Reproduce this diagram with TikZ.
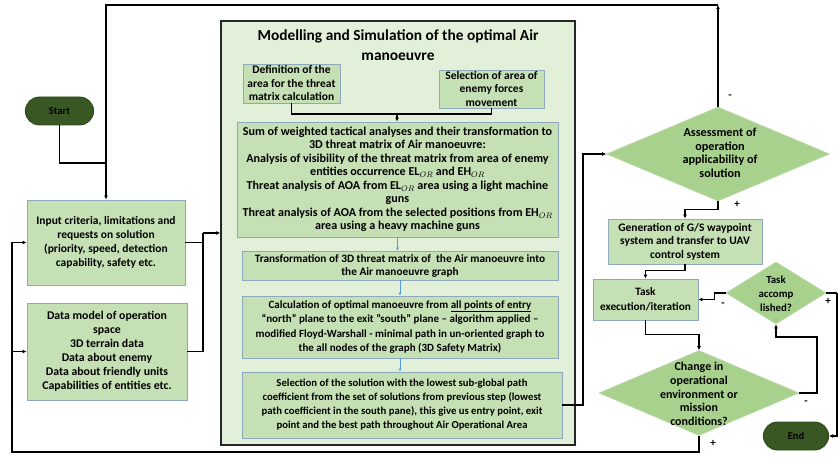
\documentclass[tikz,border=0pt]{standalone}
\usepackage{fontspec}
\setmainfont{Carlito}
\usetikzlibrary{shapes.geometric,shapes.misc,arrows.meta,calc}
\definecolor{framefill}{HTML}{E2F0D9}
\definecolor{boxfill}{HTML}{C5E0B4}
\definecolor{boxline}{HTML}{8FA9BC}
\definecolor{diafill}{HTML}{A9D18E}
\definecolor{termfill}{HTML}{385723}
\definecolor{termline}{HTML}{2E4A1C}
\definecolor{bluearrow}{HTML}{5B9BD5}
\newcommand{\fs}[2]{\bfseries\fontsize{#1}{#2}\selectfont}
\tikzset{
  box/.style={draw=boxline, line width=0.9pt, fill=boxfill, inner sep=0pt, align=center},
  dia/.style={diamond, draw=diafill!80!white, line width=0.6pt, fill=diafill, inner sep=0pt},
  diatext/.style={align=center},
  term/.style={rounded rectangle, draw=termline, fill=termfill, line width=0.8pt,
    font=\fs{10.5}{12}, text=black},
  arr/.style={line width=1.3pt, -{Latex[length=4pt,width=4pt]}},
  conn/.style={line width=1.3pt},
  barr/.style={line width=0.8pt, draw=bluearrow, -{Latex[length=3pt,width=3pt]}},
  sign/.style={font=\fs{11}{12}},
}
\begin{document}
\begin{tikzpicture}[x=1pt,y=-1pt]
\useasboundingbox (0,0) rectangle (838,457);
% big frame
\node[draw=black!85, line width=1.4pt, fill=framefill, minimum width=354pt, minimum height=424pt, inner sep=0pt] (frame) at (398,233) {};
\node[align=center, font=\fs{15.4}{20}] (title) at (398,45) {Modelling and Simulation of the optimal Air\\manoeuvre};
\node[box, font=\fs{11.5}{13.5}, minimum width=97pt, minimum height=39pt] (def) at (291.5,83.5) {Definition of the\\area for the threat\\matrix calculation};
\node[box, font=\fs{11.5}{13.5}, minimum width=105pt, minimum height=38pt] (sel) at (491.5,89) {Selection of area of\\enemy forces\\movement};
\node[box, font=\fs{12.1}{13.5}, minimum width=321pt, minimum height=115pt] (sum) at (397.5,179.5) {Sum of weighted tactical analyses and their transformation to\\3D threat matrix of Air manoeuvre:\\Analysis of visibility of the threat matrix from area of enemy\\entities occurrence $\mathbf{EL}_{OR}$ and $\mathbf{EH}_{OR}$\\Threat analysis of AOA from $\mathbf{EL}_{OR}$ area using a light machine\\guns\\Threat analysis of AOA from the selected positions from $\mathbf{EH}_{OR}$\\area using a heavy machine guns};
\node[box, font=\fs{11.3}{13}, minimum width=316pt, minimum height=29pt] (trans) at (400,265.5) {Transformation of 3D threat matrix of\ \ the Air manoeuvre into\\the Air manoeuvre graph};
\node[box, font=\fs{11}{14.5}, minimum width=316pt, minimum height=62pt] (calc) at (400,327) {Calculation of optimal manoeuvre from \underline{all points of entry}\\“north” plane to the exit ”south” plane – algorithm applied –\\modified Floyd-Warshall - minimal path in un-oriented graph to\\the all nodes of the graph (3D Safety Matrix)};
\node[box, font=\fs{10.7}{14}, minimum width=320pt, minimum height=66pt] (selsol) at (402,405) {Selection of the solution with the lowest sub-global path\\coefficient from the set of solutions from previous step (lowest\\path coefficient in the south pane), this give us entry point, exit\\point and the best path throughout Air Operational Area};
% left
\node[term, minimum width=75pt, minimum height=28pt] (start) at (59.5,111) {Start};
\node[box, font=\fs{11.5}{14}, minimum width=158pt, minimum height=85pt] (input) at (106,242.5) {Input criteria, limitations and\\requests on solution\\(priority, speed, detection\\capability, safety etc.};
\node[box, font=\fs{11.8}{14}, minimum width=160pt, minimum height=97pt] (data) at (107,351.5) {Data model of operation\\space\\3D terrain data\\Data about enemy\\Data about friendly units\\Capabilities of entities etc.};
% right
\node[dia, minimum width=223pt, minimum height=94pt] (assess) at (718,154) {};
\node[diatext, font=\fs{12.2}{13.5}] (assesst) at (720,153) {Assessment of\\operation\\applicability of\\solution};
\node[box, font=\fs{11.5}{13.5}, minimum width=154pt, minimum height=45pt] (gen) at (685,241.5) {Generation of G/S waypoint\\system and transfer to UAV\\control system};
\node[box, font=\fs{11.3}{14.5}, minimum width=105pt, minimum height=41pt] (task) at (645.5,299.5) {Task\\execution/iteration};
\node[dia, minimum width=100pt, minimum height=62pt] (accomp) at (776,293) {};
\node[diatext, font=\fs{10.8}{14}] (accompt) at (776,294) {Task\\accomp\\lished?};
\node[dia, minimum width=200pt, minimum height=85pt] (change) at (699,393) {};
\node[diatext, font=\fs{12}{13.6}] (changet) at (699,394) {Change in\\operational\\environment or\\mission\\conditions?};
\node[term, minimum width=72pt, minimum height=28pt] (end) at (796,436) {End};
% coordinates
\coordinate (j1) at (106,163);
\coordinate (tr) at (718,5);
\coordinate (j2) at (203,233);
\coordinate (j3) at (397,114);
\coordinate (j4) at (583,154);
\coordinate (c5) at (817,337);
\coordinate (bl) at (12,452);
\coordinate (rr) at (837,293);
% connectors
\draw[conn] (start.south) |- (j1);
\draw[arr] (assess.north) -- (tr);
\draw[arr] (tr) -| (input.north);
\draw[conn] (input.east) -| (j2);
\draw[conn] (data.east) -| (j2);
\draw[arr] (j2) -- (j2 -| frame.west);
\draw[conn] (def.south) |- (j3);
\draw[conn] (sel.south) |- (j3);
\draw[arr] (j3) -- (j3 |- sum.north);
\draw[barr] (sum.south) -- (sum.south |- trans.north);
\draw[barr] (trans.south) -- (trans.south |- calc.north);
\draw[barr] (calc.south) -- (calc.south |- selsol.north);
\draw[arr] (selsol.east) -| (j4) -- (assess.west);
\draw[arr] (assess.south) -- ++(0,8) -| (gen.north);
\draw[arr] (gen.south) -- ++(0,6) -| (task.north);
\draw[arr] (accomp.west) -- ++(-11,0) |- (task.east);
\draw[arr] (task.south) -- ++(0,14) -| (change.north);
\draw[arr] (change.east) -| (c5) -| (accomp.south);
\draw[conn] (accomp.east) -- (rr);
\draw[arr] (rr) |- (end.east);
\draw[arr] (change.south) |- (bl) |- (input.west);
\draw[arr] (bl |- data.west) -- (data.west);
% signs
\node[sign] (s1) at (730,97) {-};
\node[sign] (s2) at (737,204) {+};
\node[sign] (s3) at (723,305) {-};
\node[sign] (s4) at (828,301) {+};
\node[sign] (s5) at (806,403) {-};
\node[sign] (s6) at (713,443) {+};
\end{tikzpicture}
\end{document}
